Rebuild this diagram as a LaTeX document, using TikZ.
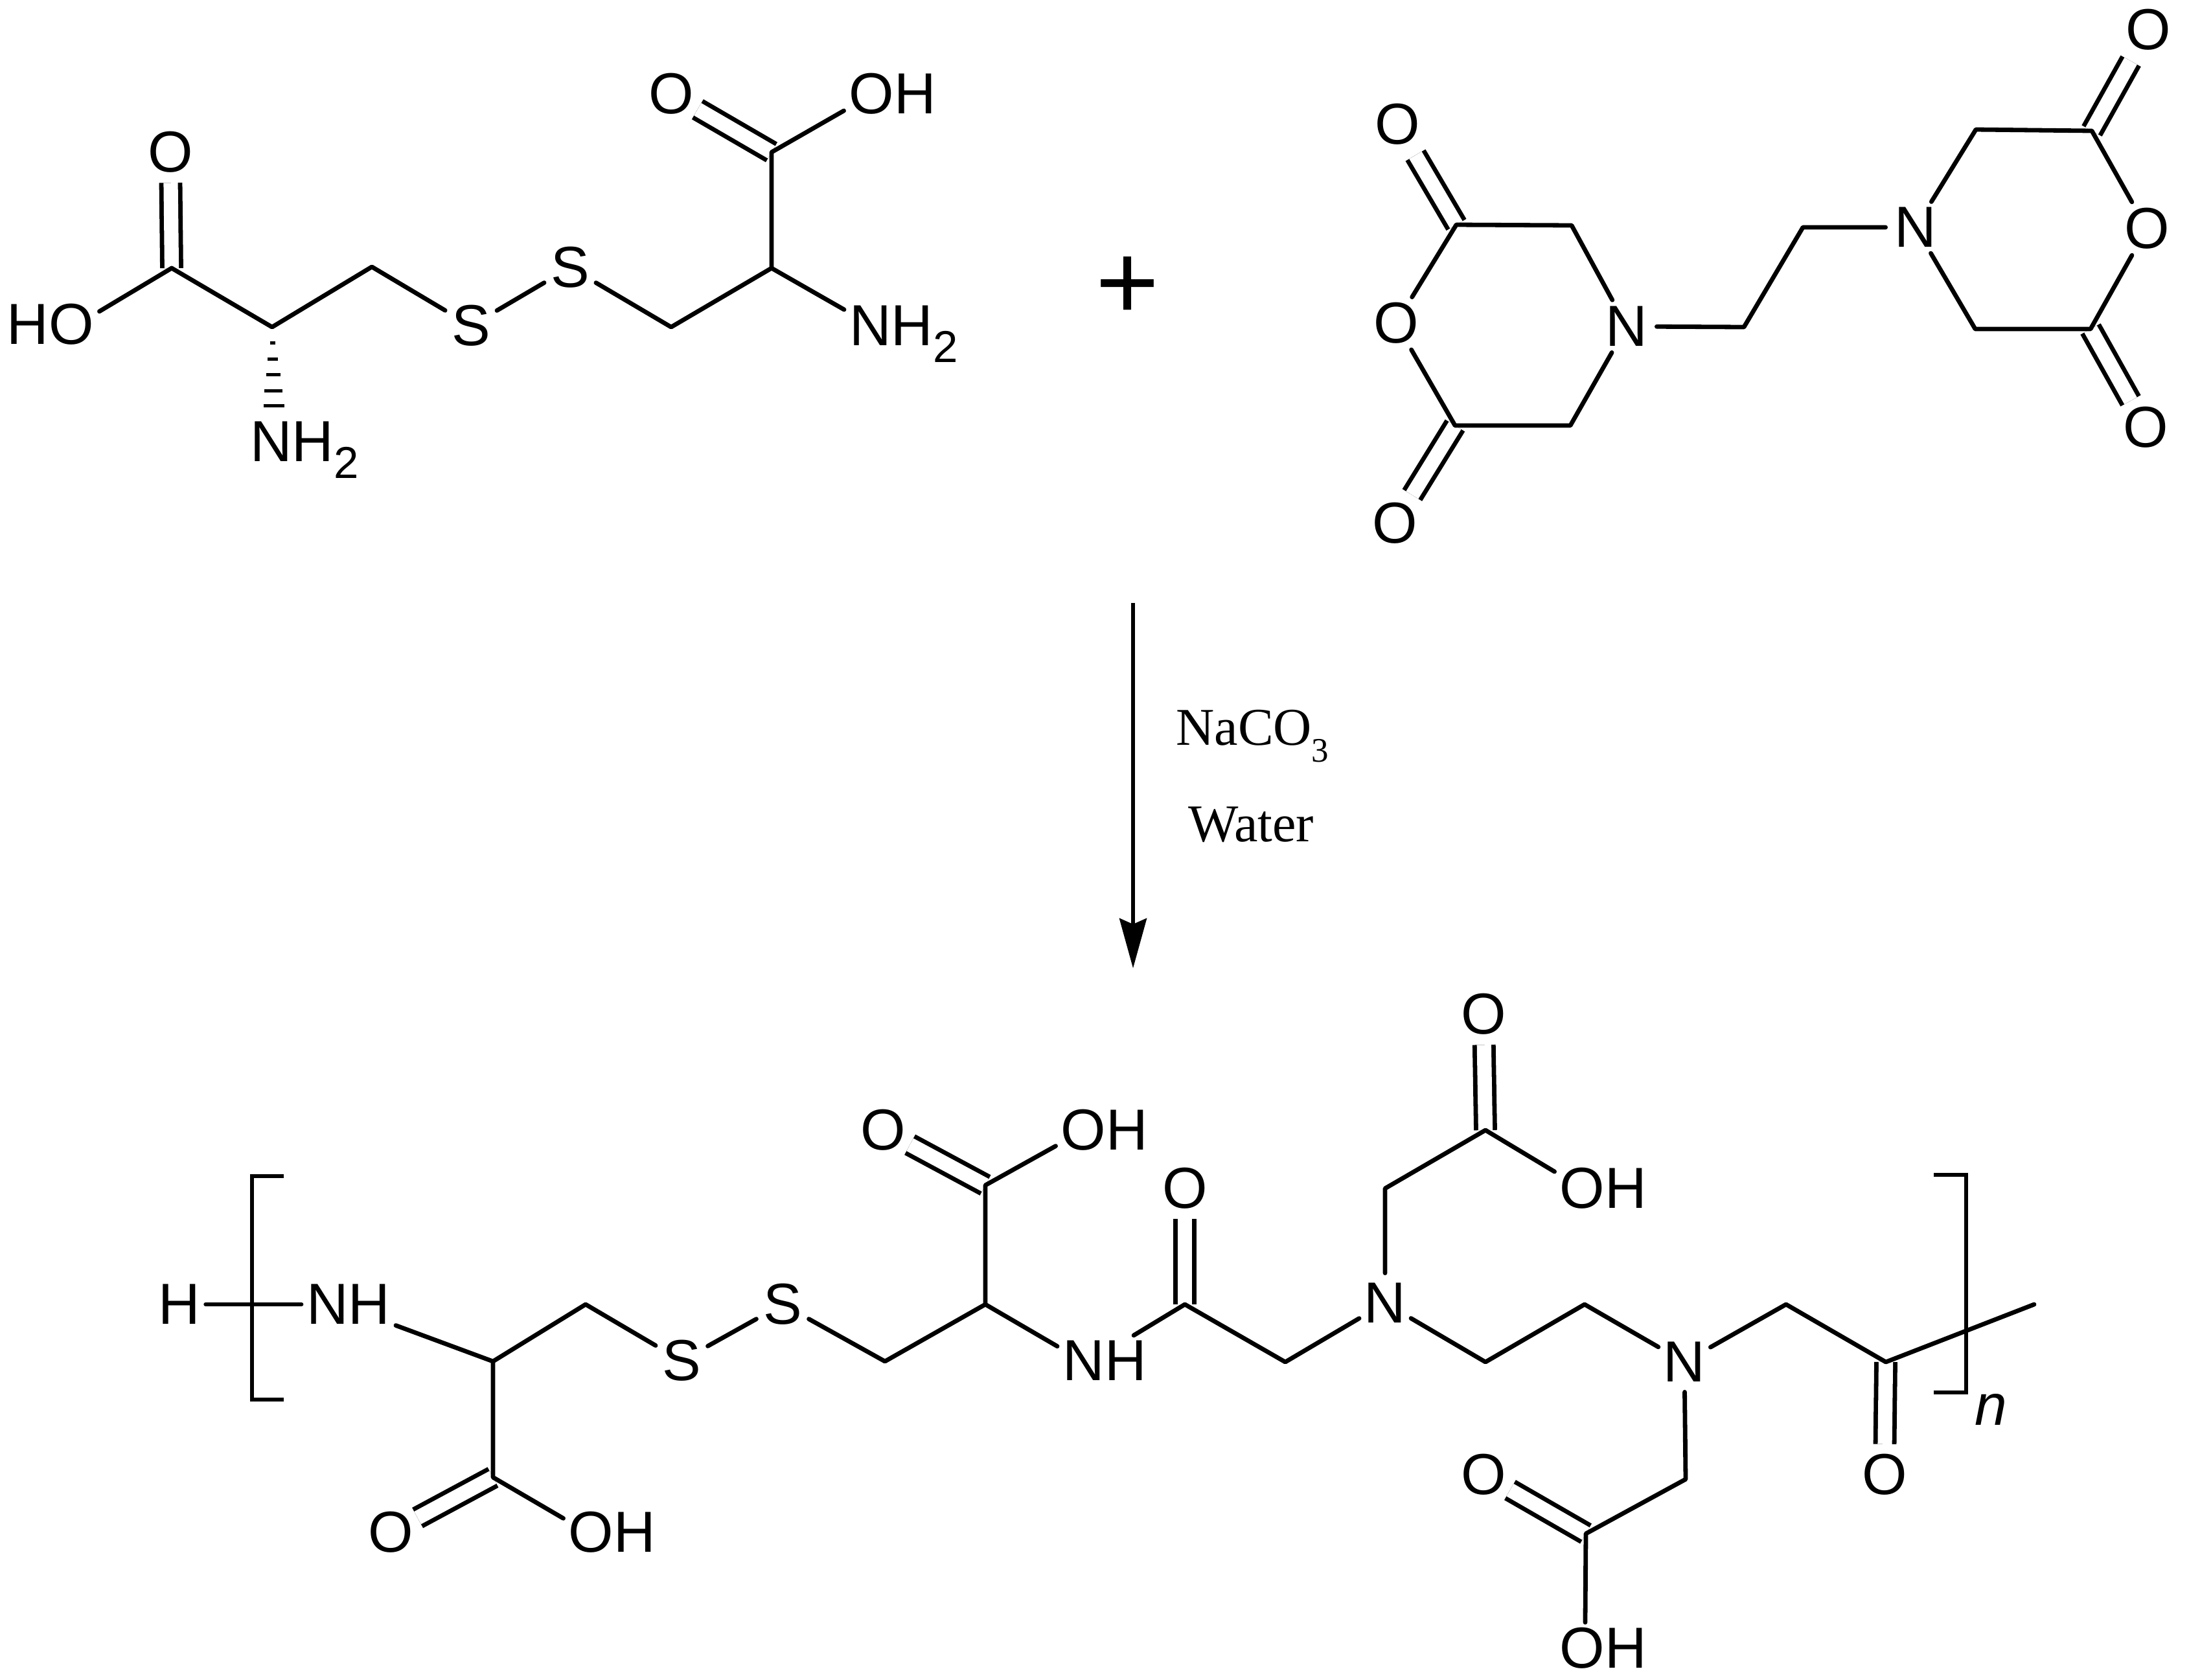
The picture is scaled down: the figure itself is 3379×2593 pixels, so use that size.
\documentclass[tikz,border=0pt]{standalone}
\usepackage{fontspec}
\setmainfont{Liberation Sans}
\newfontfamily\rxnfont{Liberation Serif}
\usetikzlibrary{calc,arrows.meta}
\newcommand{\subtwo}{{\fontsize{34.5pt}{35pt}\selectfont\raisebox{-13pt}{2}}}
\tikzset{
  atom/.style={circle,inner sep=0pt,minimum size=46pt,font=\fontsize{44.7pt}{50pt}\selectfont},
  lab/.style={rectangle,inner xsep=4pt,inner ysep=4pt,font=\fontsize{44.7pt}{50pt}\selectfont},
  bond/.style={draw=black,line width=3.4pt,line cap=round,line join=round},
  dbl/.style={draw=black,line width=3.4pt,double=white,double distance=11.1pt,line cap=butt},
  bracket/.style={draw=black,line width=2.9pt,line cap=butt,line join=miter},
  rxn/.style={inner sep=0pt,anchor=base west,font=\rxnfont\fontsize{41pt}{46pt}\selectfont},
  hash/.style={draw=black,line width=2.5pt,line cap=butt},
  reaction/.style={draw=black,line width=2.8pt,-{Stealth[length=38.5pt,width=21pt,inset=4.5pt]}}
}
\begin{document}
\begin{tikzpicture}[x=0.5pt,y=-0.5pt]
\useasboundingbox (0,0) rectangle (3379,2593);
% ---------- cystine ----------
\coordinate (ac1) at (265,414);
\coordinate (ac2) at (420,505);
\coordinate (ac3) at (574,412);
\coordinate (ac4) at (1036,505);
\coordinate (ac5) at (1191,414);
\coordinate (ac6) at (1191,235);
\node[atom] (ao1) at (263,235) {O};
\node[lab] (aho) at (78,501) {HO};
\node[atom] (as1) at (727,503) {S};
\node[atom] (as2) at (880,413) {S};
\node[atom] (ao2) at (1036,145) {O};
\node[lab] (aoh) at (1378,145) {OH};
\node[lab,anchor=base west] (anh) at (1303,533) {NH\subtwo};
\node[lab,anchor=base west] (anl) at (378,712) {NH\subtwo};
\draw[dbl] (ac1) -- (ao1);
\draw[dbl] (ac6) -- (ao2);
\draw[bond] (ac1) -- (aho.15);
\draw[bond] (ac1) -- (ac2) -- (ac3) -- (as1) -- (as2) -- (ac4) -- (ac5) -- (ac6) -- (aoh.199);
\draw[bond] (ac5) -- (anh.158);
\foreach \f/\w in {.18/4,.36/8,.537/11,.716/14,.888/16}
  \draw[hash] ($(ac2)!\f!(anl.132)$) +(-\w,0) -- +(\w,0);
% ---------- plus ----------
\node[inner sep=0pt,font=\fontsize{84pt}{84pt}\selectfont] (plus) at (1741,445) {+};
% ---------- EDTA dianhydride ----------
\coordinate (bc1) at (2426,348);
\coordinate (bc2) at (2248,347);
\coordinate (bc3) at (2246,657);
\coordinate (bc4) at (2424,657);
\coordinate (bc5) at (2692,505);
\coordinate (bc6) at (2783,351);
\coordinate (bc7) at (3050,200);
\coordinate (bc8) at (3229,202);
\coordinate (bc9) at (3227,508);
\coordinate (bc10) at (3049,508);
\node[atom] (bn1) at (2511,504) {N};
\node[atom] (bn2) at (2957,351) {N};
\node[atom] (bo1) at (2155,499) {O};
\node[atom] (bo2) at (2157,192) {O};
\node[atom] (bo3) at (2153,808) {O};
\node[atom] (bo4) at (3314,353) {O};
\node[atom] (bo5) at (3316,46) {O};
\node[atom] (bo6) at (3312,660) {O};
\draw[dbl,shorten >=4pt] (bc2) -- (bo2);
\draw[dbl,shorten >=2pt] (bc3) -- (bo3);
\draw[dbl,shorten >=4pt] (bc8) -- (bo5);
\draw[dbl] (bc9) -- (bo6);
\draw[bond] (bn1) -- (bc1) -- (bc2) -- (bo1) -- (bc3) -- (bc4) -- (bn1) -- (bc5) -- (bc6) -- (bn2) -- (bc7) -- (bc8) -- (bo4) -- (bc9) -- (bc10) -- (bn2);
% ---------- reaction arrow ----------
\coordinate (arrowtop) at (1749,931);
\coordinate (arrowtip) at (1749,1495);
\draw[reaction] (arrowtop) -- (arrowtip);
\node[rxn] (reag) at (1815,1150) {NaCO{\fontsize{26.5pt}{27pt}\selectfont\raisebox{-13pt}{3}}};
\node[rxn] (solv) at (1834,1299) {Water};
% ---------- polymer ----------
\coordinate (pc1) at (761,2102);
\coordinate (pc2) at (904,2014);
\coordinate (pc3) at (1366,2102);
\coordinate (pc4) at (1521,2014);
\coordinate (pc5) at (1521,1830);
\coordinate (pc6) at (761,2281);
\coordinate (pc7) at (1829,2014);
\coordinate (pc8) at (1984,2103);
\coordinate (pc9) at (2138,1835);
\coordinate (pc10) at (2293,1745);
\coordinate (pc11) at (2293,2103);
\coordinate (pc12) at (2446,2014);
\coordinate (pc13) at (2757,2014);
\coordinate (pc14) at (2911,2103);
\coordinate (pc15) at (2602,2284);
\coordinate (pc16) at (2448,2368);
\coordinate (pend) at (3140,2014);
\node[lab] (ph) at (277,2014) {H};
\node[lab] (pnh1) at (538,2014) {NH};
\node[atom] (ps1) at (1052,2101) {S};
\node[atom] (ps2) at (1208,2014) {S};
\node[lab] (pnh2) at (1705,2101) {NH};
\node[atom] (po1) at (1363,1745) {O};
\node[lab] (poh1) at (1705,1745) {OH};
\node[atom] (po2) at (603,2366) {O};
\node[lab] (poh2) at (945,2366) {OH};
\node[atom] (po3) at (1829,1835) {O};
\node[atom] (pn1) at (2138,2012) {N};
\node[atom] (pn2) at (2600,2103) {N};
\node[atom] (po4) at (2290,1566) {O};
\node[lab] (poh3) at (2475,1835) {OH};
\node[atom] (po5) at (2909,2277) {O};
\node[atom] (po6) at (2290,2277) {O};
\node[lab] (poh4) at (2475,2545) {OH};
\node[inner sep=0pt,font=\itshape\fontsize{44.7pt}{50pt}\selectfont] (pn) at (3073,2176) {n};
\draw[dbl] (pc5) -- (po1);
\draw[dbl] (pc6) -- (po2);
\draw[dbl] (pc7) -- (po3);
\draw[dbl] (pc10) -- (po4);
\draw[dbl] (pc14) -- (po5);
\draw[dbl] (pc16) -- (po6);
\draw[bond] (ph.east) -- (pnh1.west);
\draw[bond] (pnh1.336) -- (pc1) -- (pc2) -- (ps1) -- (ps2) -- (pc3) -- (pc4) -- (pc5) -- (poh1.198);
\draw[bond] (pc4) -- (pnh2.163);
\draw[bond] (pc1) -- (pc6) -- (poh2.164);
\draw[bond] (pnh2.41) -- (pc7) -- (pc8) -- (pn1) -- (pc9) -- (pc10) -- (poh3.161);
\draw[bond] (pn1) -- (pc11) -- (pc12) -- (pn2) -- (pc13) -- (pc14) -- (pend);
\draw[bond] (pn2) -- (pc15) -- (pc16) -- (poh4.125);
\coordinate (lb1) at (438,1816);
\coordinate (lb2) at (389,1816);
\coordinate (lb3) at (389,2161);
\coordinate (lb4) at (438,2161);
\coordinate (rb1) at (2985,1814);
\coordinate (rb2) at (3035,1814);
\coordinate (rb3) at (3035,2150);
\coordinate (rb4) at (2985,2150);
\draw[bracket] (lb1) -- (lb2) -- (lb3) -- (lb4);
\draw[bracket] (rb1) -- (rb2) -- (rb3) -- (rb4);
\end{tikzpicture}
\end{document}
